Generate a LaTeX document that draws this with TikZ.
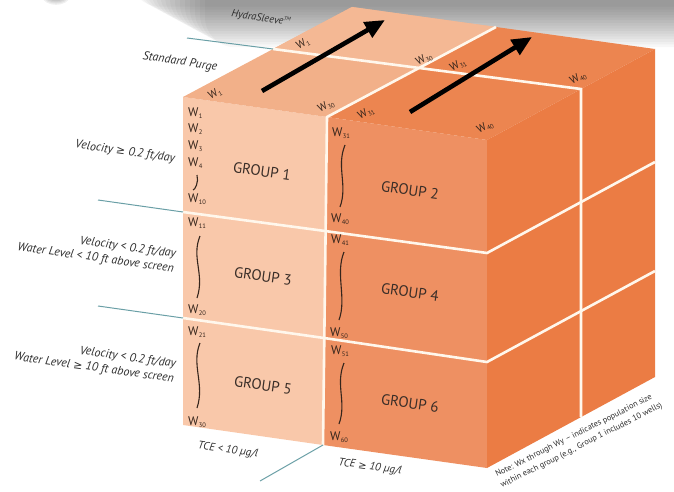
\documentclass[tikz,border=0pt]{standalone}
\usepackage{fontspec}
\setmainfont{PT Sans}
\newfontfamily\symf[Scale=0.92]{DejaVu Sans}
\usetikzlibrary{arrows.meta}

\definecolor{frontL}{HTML}{F9C8AA}
\definecolor{frontR}{HTML}{EE9062}
\definecolor{topLf}{HTML}{F2B089}
\definecolor{topLb}{HTML}{F4B894}
\definecolor{topR}{HTML}{EC8550}
\definecolor{sideC}{HTML}{EB7C44}
\definecolor{lineW}{HTML}{FFF7EC}
\definecolor{tealC}{HTML}{6A9FA6}
\definecolor{wtext}{HTML}{35251C}
\definecolor{grptext}{HTML}{3A2E28}
\definecolor{lbltext}{HTML}{2E2E2E}

% well label: W with a small subscript
\newcommand{\Wn}[1]{W\kern0.3pt\raisebox{-0.35ex}{\fontsize{6.5}{6.5}\selectfont #1}}
% greater-or-equal sign taken from DejaVu Sans
\newcommand{\geqs}{{\symf ≥}}

\begin{document}
\begin{tikzpicture}[x=1pt,y=-1pt,
  wline/.style={draw=lineW, line width=2.6pt},
  tealline/.style={draw=tealC, line width=1pt},
  flowarrow/.style={draw=black, line width=4.6pt, -{Triangle[length=20pt,width=17pt]}},
  wcurve/.style={draw=wtext, line width=1.1pt},
  wl/.style={font=\fontsize{12.5}{12.5}\selectfont, text=wtext, inner sep=0pt, anchor=west},
  toplbl/.style={font=\fontsize{11}{11}\selectfont, text=wtext, inner sep=0pt, rotate=28},
  grp/.style={font=\fontsize{15}{15}\selectfont, text=grptext, inner sep=0pt, rotate=-8},
  sidelbl/.style={font=\itshape\fontsize{12}{15}\selectfont, text=lbltext, align=right, rotate=-8, anchor=east, inner sep=0pt},
  axlbl/.style={font=\itshape\fontsize{11}{12}\selectfont, text=lbltext, inner sep=0pt, rotate=-9},
  notelbl/.style={font=\fontsize{8.3}{9}\selectfont, text=lbltext, inner sep=0pt, rotate=26.7, anchor=base west}]
\useasboundingbox (0,0) rectangle (674,492);

% soft shadow along the top
\foreach \i in {1,...,16}
  \fill[black, opacity=0.03, rounded corners=30] (125+\i*5,-40) rectangle (720,4+\i*2.7);
\foreach \i in {1,...,5}
  \fill[black, opacity=0.06] (56,-3) ellipse ({15-\i*1.6} and {9-\i*1.2});

% cube corners
\coordinate (P0) at (183,97);
\coordinate (P1) at (487,140);
\coordinate (Q0) at (352,7);
\coordinate (Q1) at (655,49);
\coordinate (B0) at (183,425);
\coordinate (B1) at (487,468);
\coordinate (R1) at (655,377);
% column divider
\coordinate (M) at (327,117);
\coordinate (N) at (323,445);
\coordinate (MQ) at (496,27);
% purge divider
\coordinate (PL) at (273,49);
\coordinate (PR) at (581,89);
\coordinate (PX) at (419,68);
\coordinate (PS) at (581,417);
% row dividers
\coordinate (A1) at (183,212);
\coordinate (C1) at (325,231);
\coordinate (E1) at (487,253);
\coordinate (F1) at (655,162);
\coordinate (A2) at (183,318);
\coordinate (C2) at (324,338);
\coordinate (E2) at (487,362);
\coordinate (F2) at (655,271);

% faces
\fill[frontL] (P0) -- (M) -- (N) -- (B0) -- cycle;
\fill[frontR] (M) -- (P1) -- (B1) -- (N) -- cycle;
\fill[topLf] (P0) -- (M) -- (MQ) -- (Q0) -- cycle;
\fill[topLb] (PL) -- (PX) -- (MQ) -- (Q0) -- cycle;
\fill[topR] (M) -- (P1) -- (Q1) -- (MQ) -- cycle;
\fill[sideC] (P1) -- (Q1) -- (R1) -- (B1) -- cycle;

% white dividers
\draw[wline] (MQ) -- (M) -- (N);
\draw[wline] (PL) -- (PR) -- (PS);
\draw[wline] (A1) -- (C1) -- (E1) -- (F1);
\draw[wline] (A2) -- (C2) -- (E2) -- (F2);

% leader lines
\coordinate (t1) at (187,38);
\coordinate (t2) at (98,200);
\coordinate (t3) at (98,306);
\coordinate (t4) at (260,481);
\draw[tealline] (t1) -- (PL);
\draw[tealline] (t2) -- (A1);
\draw[tealline] (t3) -- (A2);
\draw[tealline] (N) -- (t4);

% sampling direction arrows
\coordinate (a1s) at (262,91);
\coordinate (a1e) at (385,20);
\coordinate (a2s) at (410,112);
\coordinate (a2e) at (532,37);
\draw[flowarrow] (a1s) -- (a1e);
\draw[flowarrow] (a2s) -- (a2e);

% labels on the top face
\node[toplbl] (tw1b) at (303,44) {\Wn{1}};
\node[toplbl] (tw30b) at (424,59) {\Wn{30}};
\node[toplbl] (tw31b) at (458,65) {\Wn{31}};
\node[toplbl] (tw40b) at (578,78) {\Wn{40}};
\node[toplbl] (tw1f) at (215,94) {\Wn{1}};
\node[toplbl] (tw30f) at (326,106) {\Wn{30}};
\node[toplbl] (tw31f) at (366,113) {\Wn{31}};
\node[toplbl] (tw40f) at (485,127) {\Wn{40}};

% wells, left column
\node[wl] (w1) at (188,113) {\Wn{1}};
\node[wl] (w2) at (188,129) {\Wn{2}};
\node[wl] (w3) at (188,146) {\Wn{3}};
\node[wl] (w4) at (188,163) {\Wn{4}};
\draw[wcurve] (197,175) .. controls +(2,7) and +(2,0) .. (193,190);
\node[wl] (w10) at (188,199) {\Wn{10}};
\node[wl] (w11) at (188,223) {\Wn{11}};
\draw[wcurve] (200,236) .. controls +(-9,22) and +(8,-24) .. (197,298);
\node[wl] (w20) at (188,310) {\Wn{20}};
\node[wl] (w21) at (188,332) {\Wn{21}};
\draw[wcurve] (200,343) .. controls +(-9,22) and +(8,-24) .. (197,408);
\node[wl] (w30) at (188,422) {\Wn{30}};

% wells, right column
\node[wl] (w31) at (332,133) {\Wn{31}};
\draw[wcurve] (345,145) .. controls +(-9,22) and +(8,-22) .. (340,207);
\node[wl] (w40) at (331,219) {\Wn{40}};
\node[wl] (w41) at (331,240) {\Wn{41}};
\draw[wcurve] (344,252) .. controls +(-9,22) and +(8,-22) .. (339,320);
\node[wl] (w50) at (330,333) {\Wn{50}};
\node[wl] (w51) at (331,351) {\Wn{51}};
\draw[wcurve] (344,363) .. controls +(-9,22) and +(8,-22) .. (339,424);
\node[wl] (w60) at (330,437) {\Wn{60}};

% group names
\node[grp] (g1) at (262,171) {GROUP 1};
\node[grp] (g2) at (410,190) {GROUP 2};
\node[grp] (g3) at (263,276) {GROUP 3};
\node[grp] (g4) at (410,292) {GROUP 4};
\node[grp] (g5) at (263,385) {GROUP 5};
\node[grp] (g6) at (410,403) {GROUP 6};

% axis labels
\node[axlbl, font=\itshape\fontsize{10.5}{12}\selectfont] (hs) at (261,18) {HydraSleeve\raisebox{0.9ex}{\fontsize{5.5}{5.5}\selectfont TM}};
\node[axlbl, font=\itshape\fontsize{12}{12}\selectfont] (sp) at (180,62) {Standard Purge};
\node[sidelbl] (row1) at (175,159) {Velocity \geqs{} 0.2 ft/day};
\node[sidelbl] (row2) at (175,262) {Velocity < 0.2 ft/day\\Water Level < 10 ft above screen};
\node[sidelbl] (row3) at (175,372) {Velocity < 0.2 ft/day\\Water Level \geqs{} 10 ft above screen};
\node[axlbl, rotate=1] (tce1) at (228,450) {TCE < 10 µg/l};
\node[axlbl, rotate=1] (tce2) at (370,467) {TCE \geqs{} 10 µg/l};

% note along the bottom edge of the side face
\node[notelbl] (note1) at (497,477) {Note: Wx through Wy – indicates population size};
\node[notelbl] (note2) at (502,488) {within each group (e.g., Group 1 includes 10 wells)};
\end{tikzpicture}
\end{document}
